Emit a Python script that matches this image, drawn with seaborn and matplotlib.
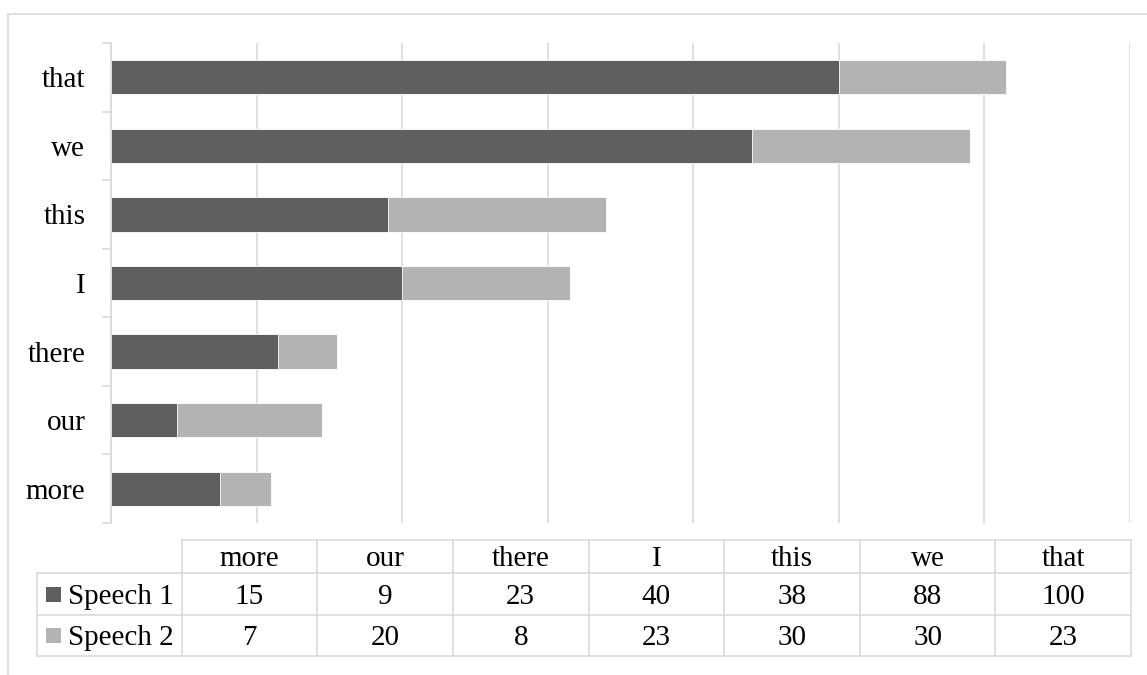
import matplotlib
matplotlib.use("Agg")
import matplotlib.pyplot as plt
import seaborn as sns
import pandas as pd
import numpy as np

# ---- data ----
categories = ["more", "our", "there", "I", "this", "we", "that"]
speech1 = [15, 9, 23, 40, 38, 88, 100]
speech2 = [7, 20, 8, 23, 30, 30, 23]
series_names = ["Speech 1", "Speech 2"]

dark = "#5f5f5f"
light = "#b3b3b3"
grid_c = "#d9d9d9"
FS = 21

sns.set_theme(style="white")
plt.rcParams["font.family"] = ["Liberation Serif", "DejaVu Serif"]

W, H = 1147, 675
fig = plt.figure(figsize=(W / 100, H / 100), dpi=100)

df = pd.DataFrame({"word": categories, "s1": speech1, "s2": speech2})
df["total"] = df["s1"] + df["s2"]
order = categories[::-1]  # top to bottom

ax = fig.add_axes([111 / W, 1 - 523 / H, (1130 - 111) / W, 480 / H])
sns.barplot(data=df, x="total", y="word", order=order, color=light,
            saturation=1, width=0.5, edgecolor="white", linewidth=0.6, ax=ax)
sns.barplot(data=df, x="s1", y="word", order=order, color=dark,
            saturation=1, width=0.5, edgecolor="white", linewidth=0.6, ax=ax)

ax.set_xlim(0, 140)
ax.set_ylim(len(order) - 0.5, -0.5)
ax.set_xticks(np.arange(0, 141, 20))
ax.set_xticklabels([])
ax.tick_params(axis="x", length=0)
ax.xaxis.grid(True, color=grid_c, linewidth=1.2)
ax.yaxis.grid(False)
ax.set_axisbelow(True)
ax.set_xlabel("")
ax.set_ylabel("")
for s in ["top", "right", "bottom"]:
    ax.spines[s].set_visible(False)
ax.spines["left"].set_color(grid_c)
ax.spines["left"].set_linewidth(1.2)
ax.set_yticks(np.arange(len(order)))
ax.set_yticklabels(order, fontsize=FS, color="black")
ax.set_yticks(np.arange(-0.5, len(order), 1.0), minor=True)
ax.tick_params(axis="y", which="major", left=True, length=0, pad=18.5)
ax.tick_params(axis="y", which="minor", left=True, length=6.5, width=1.2,
               color=grid_c)

# ---- data table + chart border (pixel-coordinate overlay) ----
ov = fig.add_axes([0, 0, 1, 1], zorder=-1)
ov.set_xlim(0, W)
ov.set_ylim(H, 0)
ov.axis("off")
lw = 1.2
# outer chart border
ov.plot([7.5, W], [14, 14], color=grid_c, lw=lw)
ov.plot([7.5, 7.5], [14, H], color=grid_c, lw=lw)

x0_leg, x0, x1 = 37, 181.7, 1131
y_head, y_r1, y_r2, y_bot = 540, 573, 615, 655.5
ncol = len(categories)
colw = (x1 - x0) / ncol
# horizontal lines
ov.plot([x0, x1], [y_head, y_head], color=grid_c, lw=lw)
for yy in (y_r1, y_r2, y_bot):
    ov.plot([x0_leg, x1], [yy, yy], color=grid_c, lw=lw)
# vertical lines
ov.plot([x0_leg, x0_leg], [y_r1, y_bot], color=grid_c, lw=lw)
for k in range(ncol + 1):
    xx = x0 + k * colw
    ov.plot([xx, xx], [y_head, y_bot], color=grid_c, lw=lw)

dy = 3
head_y = (y_head + y_r1) / 2 + dy
row_y = [(y_r1 + y_r2) / 2, (y_r2 + y_bot) / 2]
for k, cat in enumerate(categories):
    cx = x0 + (k + 0.5) * colw
    ov.text(cx, head_y, cat, ha="center", va="center",
            fontsize=FS, color="black")
    ov.text(cx, row_y[0] + dy, str(speech1[k]), ha="center", va="center",
            fontsize=FS, color="black")
    ov.text(cx, row_y[1] + dy, str(speech2[k]), ha="center", va="center",
            fontsize=FS, color="black")

for name, col, yy in zip(series_names, [dark, light], row_y):
    ov.add_patch(plt.Rectangle((46, yy - 7.5), 15, 15, color=col, lw=0))
    ov.text(67.5, yy + dy, name, ha="left", va="center", fontsize=FS,
            color="black")

fig.savefig("out.png", dpi=100)
